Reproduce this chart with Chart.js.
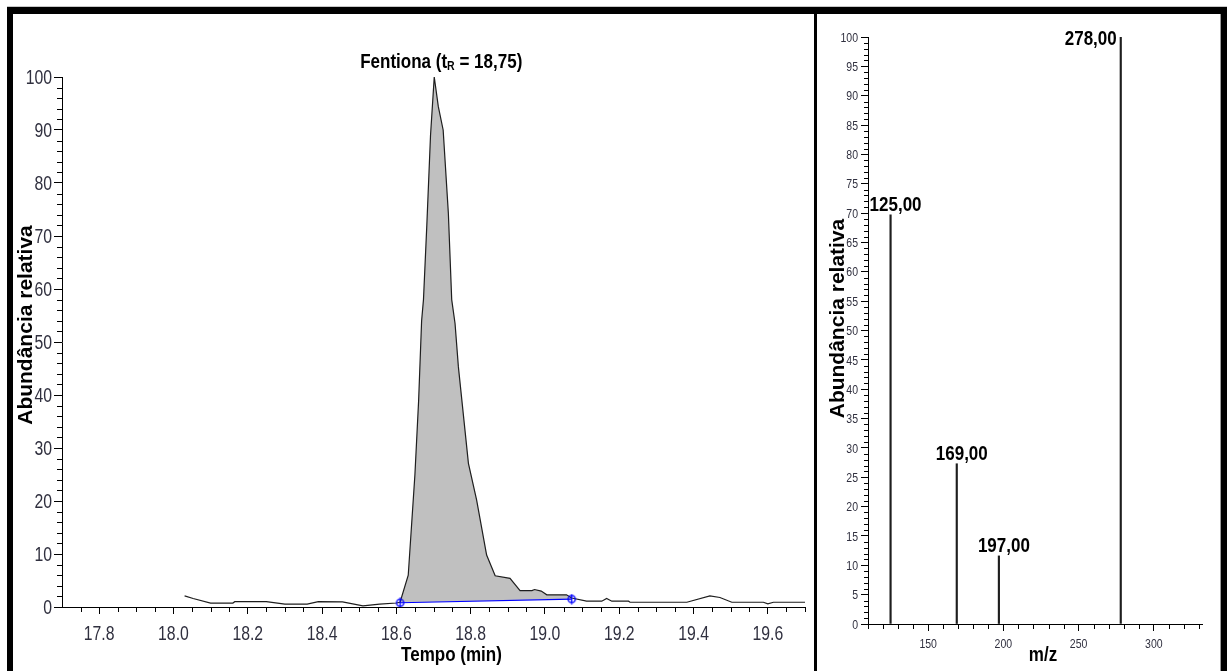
<!DOCTYPE html>
<html>
<head>
<meta charset="utf-8">
<script src="https://cdn.jsdelivr.net/npm/chart.js@4/dist/chart.umd.min.js"></script>
<style>
  html, body { margin: 0; background: #fff; overflow: hidden; }
  .frame { position: absolute; left: 7px; top: 7px; width: 1208px; height: 700px; border: solid #000; border-width: 7px 6px 0 6px; box-shadow: 0 -1px 0 #c8c8c8, inset -1px 0 0 #9a9a9a; }
  .divider { position: absolute; left: 814px; top: 14px; width: 3px; height: 657px; background: #000; }
  canvas { position: absolute; top: 14px; }
  #chromatogram { left: 13px; }
  #spectrum { left: 817px; }
</style>
</head>
<body>
<div class="frame"></div>
<canvas id="chromatogram" width="801" height="657"></canvas>
<div class="divider"></div>
<canvas id="spectrum" width="404" height="657"></canvas>
<script>
// chromatogram trace (min, % relative abundance)
const retentionTimes = [18.03, 18.053, 18.10, 18.16, 18.165, 18.25, 18.30, 18.36, 18.39, 18.455, 18.51, 18.555, 18.60,
  18.61, 18.632, 18.65, 18.66, 18.668, 18.673, 18.682, 18.692, 18.702, 18.713, 18.726, 18.74, 18.749, 18.758, 18.767,
  18.794, 18.816, 18.843, 18.866, 18.906, 18.933, 18.965, 18.972, 18.99, 19.005, 19.058, 19.072, 19.112, 19.153,
  19.166, 19.18, 19.225, 19.229, 19.382, 19.444, 19.471, 19.503, 19.588, 19.60, 19.615, 19.70];
const abundance = [2.1, 1.6, 0.75, 0.75, 1.0, 1.0, 0.55, 0.55, 1.0, 0.95, 0.2, 0.55, 0.75,
  0.9, 6.0, 25, 39, 54, 58, 72, 89, 100, 94.4, 90, 74.3, 58, 53.5, 45.3,
  27.1, 20.2, 9.8, 5.9, 5.4, 3.1, 3.1, 3.3, 3.0, 2.3, 2.3, 1.7, 1.1, 1.1,
  1.6, 1.1, 1.1, 0.9, 0.9, 2.1, 1.8, 0.9, 0.9, 0.6, 0.9, 0.9];

// integration baseline under the peak
const baselineTimes = [18.61, 19.072];
const baselineLevels = [0.8, 1.5];

const retentionTime = 18.75;
const compoundName = 'Fentiona';

const timeTicks = [17.8, 18.0, 18.2, 18.4, 18.6, 18.8, 19.0, 19.2, 19.4, 19.6];
const abundanceTicks = [0, 10, 20, 30, 40, 50, 60, 70, 80, 90, 100];

// mass spectrum
const mzValues = [125, 169, 197, 278];
const mzIntensity = [69.7, 27.3, 11.6, 100];
const mzTicks = [150, 200, 250, 300];
const intensityTicks = [0, 5, 10, 15, 20, 25, 30, 35, 40, 45, 50, 55, 60, 65, 70, 75, 80, 85, 90, 95, 100];

const FONT = "'Liberation Sans', Arial, sans-serif";
const TICK_COLOR = '#30303f';
const SQUISH = 0.81; // horizontal text is drawn condensed

function squished(ctx, text, x, y, align) {
  ctx.save();
  ctx.translate(x, y);
  ctx.scale(SQUISH, 1);
  ctx.textAlign = align;
  ctx.fillText(text, 0, 0);
  ctx.restore();
}

// baseline end marker: open circle crossed by a short vertical stroke
function makeEndMarker() {
  const c = document.createElement('canvas');
  c.width = 11;
  c.height = 11;
  const g = c.getContext('2d');
  g.strokeStyle = '#0000ff';
  g.lineWidth = 1.4;
  g.beginPath();
  g.arc(5.5, 5.5, 3.6, 0, Math.PI * 2);
  g.moveTo(5.5, 0.5);
  g.lineTo(5.5, 10.5);
  g.stroke();
  return c;
}

// short unlabeled ticks between the labeled ones
const minorMarks = {
  id: 'minorMarks',
  afterDraw(chart) {
    const ctx = chart.ctx;
    Object.values(chart.scales).forEach(scale => {
      const m = scale.options.minorMarks;
      if (!m) return;
      ctx.save();
      ctx.strokeStyle = '#000';
      ctx.lineWidth = 1;
      ctx.beginPath();
      for (let i = 0; ; i++) {
        const v = m.from + i * m.step;
        if (v > scale.max + 1e-9) break;
        if (scale.ticks.some(t => Math.abs(t.value - v) < 1e-6)) continue;
        const p = Math.round(scale.getPixelForValue(v)) + 0.5;
        if (scale.isHorizontal()) {
          ctx.moveTo(p, scale.top);
          ctx.lineTo(p, scale.top + m.length);
        } else {
          ctx.moveTo(scale.right - m.length, p);
          ctx.lineTo(scale.right, p);
        }
      }
      ctx.stroke();
      ctx.restore();
    });
  }
};

// tick labels, condensed; offset is measured from the axis line
const tickLabels = {
  id: 'tickLabels',
  afterDraw(chart) {
    const ctx = chart.ctx;
    Object.values(chart.scales).forEach(scale => {
      const L = scale.options.labelMarks;
      if (!L) return;
      ctx.save();
      ctx.font = `${L.size}px ${FONT}`;
      ctx.fillStyle = TICK_COLOR;
      ctx.textBaseline = 'alphabetic';
      scale.ticks.forEach(t => {
        const p = scale.getPixelForValue(t.value);
        if (scale.isHorizontal()) {
          squished(ctx, t.label, p, scale.top + L.offset, 'center');
        } else {
          squished(ctx, t.label, scale.right - L.offset, p + L.size * 0.36, 'right');
        }
      });
      ctx.restore();
    });
  }
};

function axisTitles(items) {
  return {
    id: 'axisTitles',
    afterDraw(chart) {
      const {ctx, chartArea: a} = chart;
      items.forEach(it => {
        ctx.save();
        ctx.font = `bold 21px ${FONT}`;
        ctx.fillStyle = '#000';
        ctx.textBaseline = 'middle';
        if (it.rotate) {
          ctx.textAlign = 'center';
          ctx.translate(it.x(a), it.y(a));
          ctx.rotate(-Math.PI / 2);
          ctx.fillText(it.text, 0, 0);
        } else {
          squished(ctx, it.text, it.x(a), it.y(a), 'center');
        }
        ctx.restore();
      });
    }
  };
}

// compound name with subscripted retention time, placed over the apex
const peakTitle = {
  id: 'peakTitle',
  afterDatasetsDraw(chart) {
    const ctx = chart.ctx;
    const apex = abundance.indexOf(Math.max(...abundance));
    const pt = chart.getDatasetMeta(0).data[apex];
    const main = `bold 21px ${FONT}`;
    const sub = `bold 13px ${FONT}`;
    const parts = [
      {text: compoundName + ' (t', font: main, dy: 0},
      {text: 'R', font: sub, dy: 2},
      {text: ' = ' + retentionTime.toFixed(2).replace('.', ',') + ')', font: main, dy: 0}
    ];
    ctx.save();
    ctx.fillStyle = '#000';
    ctx.textBaseline = 'alphabetic';
    let total = 0;
    parts.forEach(p => { ctx.font = p.font; p.w = ctx.measureText(p.text).width * SQUISH; total += p.w; });
    let x = pt.x + 7 - total / 2;
    const y = pt.y - 9;
    parts.forEach(p => {
      ctx.font = p.font;
      squished(ctx, p.text, x, y + p.dy, 'left');
      x += p.w;
    });
    ctx.restore();
  }
};

// m/z value written at the top of each line
const peakLabels = {
  id: 'peakLabels',
  afterDatasetsDraw(chart) {
    const {ctx, chartArea} = chart;
    ctx.save();
    ctx.font = `bold 21px ${FONT}`;
    ctx.fillStyle = '#000';
    chart.getDatasetMeta(0).data.forEach((bar, i) => {
      const text = mzValues[i].toFixed(2).replace('.', ',');
      if (bar.y - 18 < chartArea.top) {
        ctx.textBaseline = 'middle';
        squished(ctx, text, bar.x - 4, bar.y + 2, 'right');
      } else {
        ctx.textBaseline = 'alphabetic';
        squished(ctx, text, bar.x + 5, bar.y - 4, 'center');
      }
    });
    ctx.restore();
  }
};

function axisStyle(tickLength) {
  return {
    grid: { display: true, drawOnChartArea: false, drawTicks: true, tickLength: tickLength, color: '#000', lineWidth: 1, offset: false },
    border: { display: true, color: '#000', width: 1 },
    ticks: { display: false, autoSkip: false, maxRotation: 0 }
  };
}

function fixedTicks(values) {
  return scale => { scale.ticks = values.map(v => ({value: v})); };
}

const chromX = axisStyle(7);
const chromY = axisStyle(8);

new Chart(document.getElementById('chromatogram'), {
  type: 'line',
  data: {
    datasets: [
      {
        data: retentionTimes.map((t, i) => ({x: t, y: abundance[i]})),
        borderColor: '#1e1e1e',
        borderWidth: 1.2,
        backgroundColor: '#c0c0c0',
        fill: 1,
        pointRadius: 0,
        tension: 0
      },
      {
        data: baselineTimes.map((t, i) => ({x: t, y: baselineLevels[i]})),
        borderColor: '#0000ff',
        borderWidth: 1.2,
        pointStyle: makeEndMarker(),
        pointRadius: 5,
        fill: false,
        order: -1
      }
    ]
  },
  options: {
    responsive: false,
    animation: false,
    events: [],
    layout: { padding: { top: 63, right: 9, left: 0, bottom: 0 } },
    plugins: { legend: { display: false }, tooltip: { enabled: false } },
    scales: {
      x: {
        type: 'linear', min: 17.7, max: 19.7,
        afterBuildTicks: fixedTicks(timeTicks),
        afterFit: s => { s.height = 64; },
        minorMarks: { from: 17.75, step: 0.05, length: 5 },
        labelMarks: { size: 19.5, offset: 33 },
        grid: chromX.grid, border: chromX.border,
        ticks: Object.assign({}, chromX.ticks, { callback: v => v.toFixed(1) })
      },
      y: {
        type: 'linear', min: 0, max: 100,
        afterBuildTicks: fixedTicks(abundanceTicks),
        afterFit: s => { s.width = 49; },
        minorMarks: { from: 0, step: 2, length: 5 },
        labelMarks: { size: 19.5, offset: 10 },
        grid: chromY.grid, border: chromY.border,
        ticks: Object.assign({}, chromY.ticks, { callback: v => String(v) })
      }
    }
  },
  plugins: [minorMarks, tickLabels, peakTitle, axisTitles([
    { text: 'Tempo (min)', x: a => (a.left + a.right) / 2 + 18, y: a => a.bottom + 48 },
    { text: 'Abundância relativa', rotate: true, x: a => a.left - 36, y: a => (a.top + a.bottom) / 2 - 17 }
  ])]
});

const specX = axisStyle(7);
const specY = axisStyle(7);

new Chart(document.getElementById('spectrum'), {
  type: 'bar',
  data: {
    datasets: [{
      data: mzValues.map((m, i) => ({x: m, y: mzIntensity[i]})),
      backgroundColor: '#1e1e1e',
      barThickness: 1.5
    }]
  },
  options: {
    responsive: false,
    animation: false,
    events: [],
    layout: { padding: { top: 23, right: 19, left: 0, bottom: 0 } },
    plugins: { legend: { display: false }, tooltip: { enabled: false } },
    scales: {
      x: {
        type: 'linear', min: 110, max: 332, offset: false,
        afterBuildTicks: fixedTicks(mzTicks),
        afterFit: s => { s.height = 47; },
        minorMarks: { from: 110, step: 10, length: 5 },
        labelMarks: { size: 13, offset: 24 },
        grid: specX.grid, border: specX.border,
        ticks: Object.assign({}, specX.ticks, { callback: v => String(v) })
      },
      y: {
        type: 'linear', min: 0, max: 100,
        afterBuildTicks: fixedTicks(intensityTicks),
        afterFit: s => { s.width = 51; },
        minorMarks: { from: 0, step: 1, length: 4 },
        labelMarks: { size: 13, offset: 10 },
        grid: specY.grid, border: specY.border,
        ticks: Object.assign({}, specY.ticks, { callback: v => String(v) })
      }
    }
  },
  plugins: [minorMarks, tickLabels, peakLabels, axisTitles([
    { text: 'm/z', x: a => (a.left + a.right) / 2 + 8, y: a => a.bottom + 31 },
    { text: 'Abundância relativa', rotate: true, x: a => a.left - 30, y: a => (a.top + a.bottom) / 2 - 12 }
  ])]
});
</script>
</body>
</html>
